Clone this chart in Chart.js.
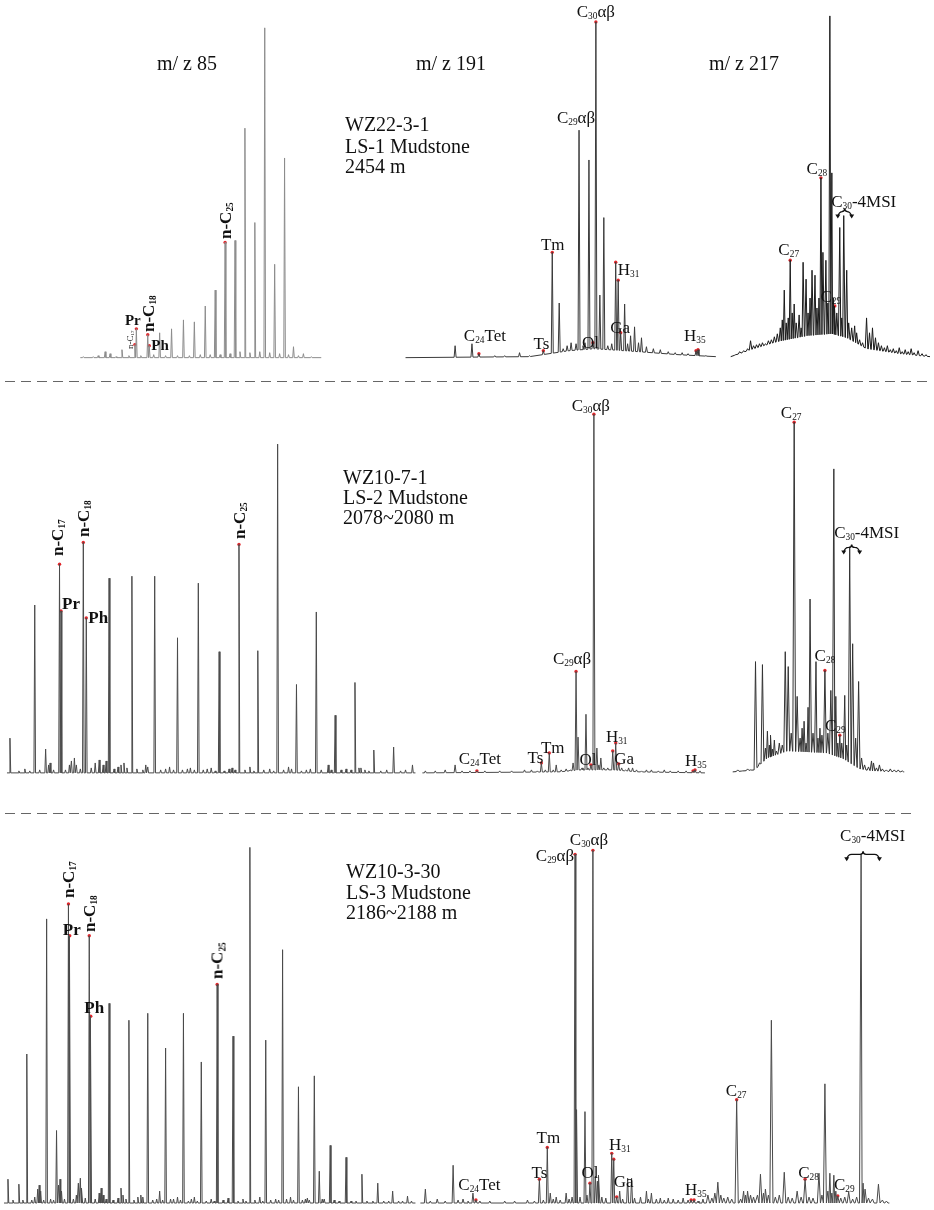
<!DOCTYPE html>
<html lang="en">
<head>
  <meta charset="UTF-8" />
  <meta name="viewport" content="width=device-width, initial-scale=1.0" />
  <title>Mass chromatograms m/z 85, 191, 217</title>
  <script src="https://cdn.jsdelivr.net/npm/chart.js"></script>
  <style>
    html, body { margin: 0; padding: 0; background: #fff; }
    #page { position: relative; width: 934px; height: 1210px; overflow: hidden;
            font-family: "Liberation Serif", "DejaVu Serif", serif; color: #111; }
    #trace { position: absolute; left: 0; top: 0; }
    .txt { position: absolute; white-space: nowrap; line-height: 1; }
    .txt sub { font-size: 0.55em; vertical-align: -0.3em; line-height: 0; }
    .hdr, .info { font-size: 20px; transform: translate(0, -50%); }
    .lab { font-size: 17px; }
    .b { font-size: 17px; font-weight: bold; }
    .b15 { font-size: 15px; font-weight: bold; }
    .s { font-size: 9px; }
  </style>
</head>
<body>
<div id="page">
  <canvas id="trace" width="934" height="1210"></canvas>

  <div class="txt hdr" style="left:157px; top:63px;">m/ z 85</div>
  <div class="txt hdr" style="left:416px; top:63px;">m/ z 191</div>
  <div class="txt hdr" style="left:709px; top:63px;">m/ z 217</div>

  <div class="txt info" style="left:345px; top:124px;">WZ22-3-1</div>
  <div class="txt info" style="left:345px; top:146px;">LS-1 Mudstone</div>
  <div class="txt info" style="left:345px; top:166px;">2454 m</div>

  <div class="txt info" style="left:343px; top:477px;">WZ10-7-1</div>
  <div class="txt info" style="left:343px; top:497px;">LS-2 Mudstone</div>
  <div class="txt info" style="left:343px; top:517px;">2078~2080 m</div>

  <div class="txt info" style="left:346px; top:871px;">WZ10-3-30</div>
  <div class="txt info" style="left:346px; top:892px;">LS-3 Mudstone</div>
  <div class="txt info" style="left:346px; top:912px;">2186~2188 m</div>
</div>

<script>
  // ---- peak tables: retention position (arbitrary units) and abundance (arbitrary units) ----

  // LS-1, m/z 85
  const p1Rt = [80, 90, 95, 102, 107, 113, 119, 126, 132, 133.5, 138, 145, 146.5, 151, 157, 163, 169, 175, 181, 187,
                192, 198, 203, 208, 213, 218, 223, 228, 233, 238, 243, 248, 253, 258, 263, 268, 273, 278, 283, 287,
                292, 297, 302, 310];
  const p1Ab = [1, 1, 2, 6, 4, 1, 8, 2, 13, 29, 2, 23, 12, 3, 25, 2, 29, 2, 38, 2,
                36, 3, 52, 3, 68, 3, 116, 4, 118, 6, 231, 5, 136, 6, 332, 5, 94, 4, 201, 3,
                11, 2, 4, 1];

  // LS-1, m/z 191
  const p2Rt = [55, 72, 79, 95, 105, 120, 130, 144, 153, 160, 164, 168, 172, 177, 180, 184, 186, 190, 194, 197,
                201, 205, 209, 213, 217, 219.5, 222, 226, 229, 232, 236, 240, 243, 248, 255, 262, 270, 277, 284, 290,
                298, 300, 308];
  const p2Ab = [12, 14, 4, 2, 2, 5, 2, 7, 106, 55, 9, 12, 15, 14, 229, 12, 15, 199, 15, 338,
                63, 141, 12, 14, 96, 78, 25, 54, 14, 22, 31, 15, 20, 11, 9, 8, 6, 5, 5, 4,
                7, 8, 2];
  const p2BaseRt = [5, 130, 150, 170, 195, 240, 280, 318];
  const p2BaseAb = [0, 1, 4, 7, 9, 6, 3, 1];

  // LS-1, m/z 217
  const p3Rt = [38, 42, 46, 50, 53, 56, 59, 62, 65, 68, 71, 74, 77, 80, 83, 85, 87, 89, 91, 93,
                95, 97, 99, 102, 104, 106, 109, 111, 113, 115, 118, 120, 122, 124, 126, 129, 131, 133, 135, 136.5,
                138, 140, 143, 145, 147, 150, 152, 155, 158, 160, 163, 166, 170, 173, 176, 179, 182, 185, 188, 191,
                194, 197, 200, 203, 206, 209, 212, 215, 218, 222, 226, 230];
  const p3Ab = [3, 6, 7, 9, 17, 12, 13, 14, 15, 14, 17, 18, 21, 24, 30, 38, 68, 35, 40, 98,
                45, 54, 35, 43, 30, 96, 79, 45, 60, 88, 83, 50, 60, 181, 106, 98, 55, 344, 186, 60,
                52, 45, 131, 40, 143, 88, 35, 30, 32, 25, 18, 15, 40, 25, 30, 20, 15, 12, 10, 12,
                8, 9, 7, 10, 6, 8, 6, 9, 5, 7, 4, 3];
  const p3BaseRt = [33, 53, 80, 110, 135, 150, 170, 203, 234];
  const p3BaseAb = [1, 8, 16, 22, 24, 20, 9, 4, 1];

  // LS-2, m/z 85
  const p4Rt = [6, 15, 21, 26, 31, 36, 42, 45, 46.5, 50, 56, 57.5, 62, 66, 68, 71, 73, 77, 80, 83,
                88, 92, 96, 100, 103, 106, 111, 115, 118, 121, 124, 129, 134, 140, 143, 145, 152, 158, 163, 167,
                171, 175, 180, 185, 188, 192, 196, 201, 205, 209, 213, 217, 222, 227, 230, 233, 237, 243, 248, 252,
                256, 262, 268, 272, 276, 282, 287, 290, 295, 300, 305, 309, 315, 320, 327, 330, 334, 340, 345, 350,
                354, 358, 360, 364, 368, 373, 380, 386, 393, 400, 405, 412];
  const p4Ab = [35, 2, 4, 2, 169, 3, 24, 8, 10, 3, 210, 163, 3, 8, 12, 15, 8, 4, 232, 156,
                5, 10, 13, 8, 12, 196, 4, 6, 8, 10, 5, 198, 4, 3, 8, 6, 198, 3, 4, 6,
                3, 136, 3, 4, 5, 3, 191, 3, 4, 5, 2, 122, 2, 4, 5, 3, 230, 3, 6, 2,
                123, 3, 4, 2, 331, 3, 6, 4, 89, 2, 3, 4, 162, 3, 8, 3, 58, 3, 4, 3,
                91, 5, 5, 3, 2, 23, 2, 3, 26, 2, 3, 8];

  // LS-2, m/z 191
  const p5Rt = [25, 35, 45, 55, 62, 70, 77, 85, 100, 112, 125, 132, 138, 142, 146, 150, 154, 157, 162, 167,
                171, 174, 177, 179, 183, 187, 189, 192, 195, 198, 200, 202, 205, 209, 214, 217, 220, 223, 227, 230,
                234, 238, 243, 248, 253, 260, 266, 272, 280, 288, 295, 297, 302];
  const p5Ab = [2, 2, 3, 8, 2, 2, 2, 2, 2, 2, 3, 3, 2, 10, 3, 20, 3, 8, 3, 4,
                3, 10, 102, 36, 5, 59, 5, 8, 361, 25, 8, 15, 5, 5, 22, 30, 9, 5, 3, 5,
                5, 3, 2, 3, 3, 2, 3, 2, 2, 2, 2, 3, 2];
  const p5BaseRt = [22, 160, 180, 215, 240, 307];
  const p5BaseAb = [0, 1, 3, 3, 1, 0];

  // LS-2, m/z 217
  const p6Rt = [40, 45, 50, 53, 58, 62, 65, 68, 70, 72, 73.5, 75, 77, 79, 82, 85, 88, 91, 94, 97,
                100, 103, 105, 107, 109, 111, 113, 116, 119, 121, 123, 125, 128, 131, 134, 137, 139, 141, 143, 145,
                148, 150, 153, 156, 159, 162, 165, 168, 172, 175, 177, 180, 183, 186, 190, 194, 198, 202, 206];
  const p6Ab = [3, 2, 4, 3, 112, 10, 109, 25, 42, 28, 38, 24, 33, 22, 30, 28, 122, 107, 40, 353,
                77, 35, 45, 52, 30, 66, 175, 40, 112, 35, 45, 38, 103, 40, 83, 306, 77, 30, 38, 30,
                78, 28, 227, 130, 35, 92, 15, 8, 6, 12, 10, 5, 8, 4, 3, 4, 3, 3, 2];
  const p6BaseRt = [35, 57, 70, 90, 130, 147, 163, 175, 208];
  const p6BaseAb = [1, 3, 15, 22, 20, 14, 4, 2, 1];

  // LS-3, m/z 85
  const p7Rt = [4, 9, 15, 19, 23, 28, 31, 34, 35.5, 37, 40, 43, 47, 50, 53, 55, 56.5, 58, 61, 65,
                66.3, 70, 73, 75, 77, 78.5, 82, 86, 87.5, 92, 96, 98, 100, 103, 106, 110, 115, 118, 120, 123,
                126, 131, 135, 138, 140, 145, 150, 154, 157, 160, 163, 168, 171, 175, 178, 181, 186, 189, 192, 195,
                199, 204, 209, 212, 215, 221, 226, 231, 236, 241, 244, 248, 253, 258, 261, 264, 269, 274, 277, 281,
                285, 289, 292, 297, 301, 304, 306, 308, 313, 318, 321, 323, 329, 333, 338, 345, 350, 355, 361, 366,
                372, 377, 383, 388, 392, 398, 402, 407, 411];
  const p7Ab = [24, 3, 19, 3, 150, 3, 6, 14, 18, 12, 3, 286, 4, 3, 73, 18, 24, 12, 4, 301,
                269, 4, 8, 20, 25, 15, 5, 269, 188, 4, 10, 15, 8, 4, 201, 3, 5, 15, 8, 4,
                184, 3, 6, 8, 6, 191, 3, 4, 12, 3, 156, 4, 4, 6, 3, 191, 2, 4, 6, 2,
                142, 2, 4, 2, 220, 3, 5, 168, 2, 4, 2, 358, 3, 6, 2, 164, 3, 4, 3, 255,
                4, 6, 3, 117, 3, 4, 5, 3, 128, 32, 4, 4, 58, 3, 2, 46, 2, 2, 29, 2,
                2, 20, 2, 2, 12, 2, 2, 7, 2];

  // LS-3, m/z 191
  const p8Rt = [25, 30, 37, 45, 53, 58, 63, 68, 73, 76, 80, 90, 105, 115, 128, 135, 140, 144, 148, 151,
                154, 157, 161, 167, 170, 173, 176, 177.5, 181, 186, 188, 191, 194, 196.5, 198.5, 200, 203, 207, 213, 215,
                218, 221, 224, 229, 233, 236, 242, 248, 250, 253, 258, 262, 266, 270, 275, 280, 285, 290, 293, 296,
                300, 305];
  const p8Ab = [14, 2, 4, 2, 38, 3, 4, 2, 10, 3, 2, 2, 2, 2, 3, 2, 24, 3, 56, 10,
                4, 6, 3, 10, 4, 6, 351, 94, 6, 92, 8, 20, 355, 27, 22, 28, 6, 5, 50, 44,
                6, 12, 4, 25, 25, 5, 6, 12, 4, 10, 4, 5, 3, 5, 4, 3, 5, 3, 3, 3,
                2, 4];

  // LS-3, m/z 217
  const p9Rt = [10, 14, 17, 20, 23, 26, 30, 34, 39, 43, 46, 48, 50, 53, 56, 60, 63, 66, 68, 71,
                74, 78, 82, 87, 91, 95, 100, 104, 108, 112, 116, 122, 125, 128, 131, 133, 135, 137, 139, 141,
                144, 148, 152, 156, 160, 164.5, 166.5, 168.5, 172, 176, 182, 186, 190];
  const p9Ab = [8, 5, 10, 21, 8, 5, 6, 4, 104, 4, 12, 8, 12, 8, 6, 8, 29, 10, 14, 8,
                184, 6, 8, 31, 6, 5, 12, 6, 24, 6, 5, 30, 8, 120, 12, 30, 10, 28, 12, 7,
                5, 6, 11, 4, 6, 351, 20, 14, 5, 4, 19, 3, 2];

  // ---- peak labels (at = retention position of the labelled peak) ----
  const p1Labels = [
    { at: 132, t: 'n-C_17', rot: true, cls: 's', dx: -5, dy: 4 },
    { at: 133.5, t: 'Pr', cls: 'b15', dx: -3.5, dy: -9 },
    { at: 145, t: 'n-C_18', rot: true, cls: 'b', dx: 0, dy: -3 },
    { at: 146.5, t: 'Ph', cls: 'b15', align: 'left', dx: 2, dy: -1 },
    { at: 223, t: 'n-C_25', rot: true, cls: 'b', dx: 0, dy: -3 }
  ];
  const p2Labels = [
    { at: 79, t: 'C_24_Tet', dx: 6, dy: -19 },
    { at: 144, t: 'Ts', align: 'right', dx: 6, dy: -8 },
    { at: 153, t: 'Tm', dx: 0.5, dy: -8 },
    { at: 180, t: 'C_29_αβ', dx: -3, dy: -13, dot: false },
    { at: 194, t: 'Ol', dx: -2.5, dy: -1 },
    { at: 197, t: 'C_30_αβ', dx: 0, dy: -11 },
    { at: 217, t: 'H_31', align: 'left', dx: 2, dy: 7 },
    { at: 219.5, t: '' },
    { at: 222, t: 'Ga', dx: -0.5, dy: -6 },
    { at: 298, t: 'H_35', align: 'left', dx: -12, dy: -16 },
    { at: 300, t: '' }
  ];
  const p3Labels = [
    { at: 93, t: 'C_27', dx: -1.5, dy: -11 },
    { at: 124, t: 'C_28', dx: -4, dy: -10 },
    { at: 138, t: 'C_29', dx: -4, dy: -10 }
  ];
  const p4Labels = [
    { at: 56, t: 'n-C_17', rot: true, cls: 'b', dx: -3, dy: -8 },
    { at: 57.5, t: 'Pr', cls: 'b', align: 'left', dx: 1, dy: -8 },
    { at: 80, t: 'n-C_18', rot: true, cls: 'b', dx: 0, dy: -5 },
    { at: 83, t: 'Ph', cls: 'b', align: 'left', dx: 2, dy: -1 },
    { at: 237, t: 'n-C_25', rot: true, cls: 'b', dx: 0, dy: -5 }
  ];
  const p5Labels = [
    { at: 77, t: 'C_24_Tet', dx: 3, dy: -13 },
    { at: 142, t: 'Ts', align: 'right', dx: 2, dy: -6 },
    { at: 150, t: 'Tm', dx: 3.5, dy: -6 },
    { at: 177, t: 'C_29_αβ', dx: -4, dy: -14 },
    { at: 192, t: 'Ol', dx: -3, dy: -6 },
    { at: 195, t: 'C_30_αβ', dx: -3, dy: -9 },
    { at: 214, t: '' },
    { at: 217, t: 'H_31', dx: 1, dy: -7 },
    { at: 220, t: 'Ga', dx: 5.5, dy: -6 },
    { at: 295, t: 'H_35', align: 'left', dx: -8, dy: -11 },
    { at: 297, t: '' }
  ];
  const p6Labels = [
    { at: 97, t: 'C_27', dx: -3, dy: -10 },
    { at: 128, t: 'C_28', dx: 0, dy: -16 },
    { at: 143, t: 'C_29', dx: -4.5, dy: -10 }
  ];
  const p7Labels = [
    { at: 65, t: 'n-C_17', rot: true, cls: 'b', dx: 0, dy: -6 },
    { at: 66.3, t: 'Pr', cls: 'b', dx: 2, dy: -7 },
    { at: 86, t: 'n-C_18', rot: true, cls: 'b', dx: 0, dy: -4 },
    { at: 87.5, t: 'Ph', cls: 'b', dx: 3.5, dy: -9 },
    { at: 215, t: 'n-C_25', rot: true, cls: 'b', dx: 0, dy: -5 }
  ];
  const p8Labels = [
    { at: 76, t: 'C_24_Tet', dx: 3.5, dy: -16 },
    { at: 140, t: 'Ts', dx: 0, dy: -7 },
    { at: 148, t: 'Tm', dx: 1, dy: -10 },
    { at: 176, t: 'C_29_αβ', align: 'right', dx: -1, dy: 1 },
    { at: 191, t: 'Ol', dx: 0, dy: -11 },
    { at: 194, t: 'C_30_αβ', dx: -4, dy: -11 },
    { at: 213, t: 'H_31', dx: 8, dy: -9 },
    { at: 215, t: '' },
    { at: 218, t: 'Ga', dx: 7, dy: -16 },
    { at: 293, t: 'H_35', align: 'left', dx: -6, dy: -11 },
    { at: 296, t: '' }
  ];
  const p9Labels = [
    { at: 39, t: 'C_27', dx: -0.5, dy: -10 },
    { at: 108, t: 'C_28', dx: 3.5, dy: -7 },
    { at: 141, t: 'C_29', dx: 6.5, dy: -12 }
  ];

  // ---- layout ----
  const W = 934, H = 1210;
  const colLeft = { mz85: 0, mz191: 400, mz217: 700 };   // px offset of each column
  const rowBase = { r1: 356, r2: 774, r3: 1207 };       // px of each row's baseline

  const panels = [
    { col: 'mz85',  row: 'r1', rt: p1Rt, ab: p1Ab, from: 77,  to: 320, w: 0.8, color: '#8c8c8c', labels: p1Labels },
    { col: 'mz191', row: 'r1', rt: p2Rt, ab: p2Ab, from: 5,   to: 318, w: 1.0, color: '#3a3a3a', labels: p2Labels, base: [p2BaseRt, p2BaseAb] },
    { col: 'mz217', row: 'r1', rt: p3Rt, ab: p3Ab, from: 33,  to: 234, w: 1.3, color: '#1a1a1a', labels: p3Labels, base: [p3BaseRt, p3BaseAb] },
    { col: 'mz85',  row: 'r2', rt: p4Rt, ab: p4Ab, from: 3,   to: 415, w: 0.8, color: '#4a4a4a', labels: p4Labels },
    { col: 'mz191', row: 'r2', rt: p5Rt, ab: p5Ab, from: 22,  to: 307, w: 1.0, color: '#4a4a4a', labels: p5Labels, base: [p5BaseRt, p5BaseAb] },
    { col: 'mz217', row: 'r2', rt: p6Rt, ab: p6Ab, from: 35,  to: 208, w: 1.4, color: '#333333', labels: p6Labels, base: [p6BaseRt, p6BaseAb] },
    { col: 'mz85',  row: 'r3', rt: p7Rt, ab: p7Ab, from: 0,   to: 415, w: 0.8, color: '#4a4a4a', labels: p7Labels },
    { col: 'mz191', row: 'r3', rt: p8Rt, ab: p8Ab, from: 20,  to: 308, w: 1.0, color: '#4a4a4a', labels: p8Labels },
    { col: 'mz217', row: 'r3', rt: p9Rt, ab: p9Ab, from: 8,   to: 193, w: 1.6, color: '#4a4a4a', labels: p9Labels }
  ];

  const braces = [
    { col: 'mz217', row: 'r1', from: 141, to: 155, at: 143, lift: 4, dx: 19, dy: -11 },
    { col: 'mz217', row: 'r2', from: 147, to: 163, at: 227, lift: 0, dx: 15, dy: -15 },
    { col: 'mz217', row: 'r3', from: 150, to: 183, at: 351, lift: 0, dx: 9.5, dy: -19 }
  ];
  const dividers = [ { x1: 5, x2: 930, y: 381 }, { x1: 5, x2: 912, y: 813 } ];

  function baseAt(base, x) {
    if (!base) return 0;
    const xs = base[0], ys = base[1];
    if (x <= xs[0]) return ys[0];
    for (let i = 1; i < xs.length; i++) {
      if (x <= xs[i]) return ys[i - 1] + (x - xs[i - 1]) / (xs[i] - xs[i - 1]) * (ys[i] - ys[i - 1]);
    }
    return ys[ys.length - 1];
  }

  // each peak becomes a narrow spike standing on the baseline
  function trace(p) {
    const idx = p.rt.map((_, i) => i).sort((a, b) => p.rt[a] - p.rt[b]);
    const pts = [{ x: p.from, y: baseAt(p.base, p.from) }];
    idx.forEach((i, k) => {
      const x = p.rt[i];
      const prev = k > 0 ? p.rt[idx[k - 1]] : -Infinity;
      const next = k < idx.length - 1 ? p.rt[idx[k + 1]] : Infinity;
      const lx = Math.max(x - p.w, (prev + x) / 2);
      const rx = Math.min(x + p.w, (x + next) / 2);
      pts.push({ x: lx, y: baseAt(p.base, lx) }, { x: x, y: p.ab[i] }, { x: rx, y: baseAt(p.base, rx) });
    });
    pts.push({ x: p.to, y: baseAt(p.base, p.to) });
    return pts;
  }

  const scales = {};
  for (const c in colLeft) scales[c] = { type: 'linear', axis: 'x', display: false, min: -colLeft[c], max: W - colLeft[c] };
  for (const r in rowBase) scales[r] = { type: 'linear', axis: 'y', display: false, min: rowBase[r] - H, max: rowBase[r] };

  const datasets = [];
  panels.forEach(p => {
    datasets.push({
      type: 'line', data: trace(p), xAxisID: p.col, yAxisID: p.row,
      borderColor: p.color, borderWidth: 1, borderJoinStyle: 'bevel',
      pointRadius: 0, tension: 0, fill: false
    });
  });
  panels.forEach(p => {
    datasets.push({
      type: 'scatter', xAxisID: p.col, yAxisID: p.row,
      data: p.labels.filter(l => l.dot !== false).map(l => ({ x: l.at, y: p.ab[p.rt.indexOf(l.at)] })),
      pointRadius: 1.7, pointBackgroundColor: '#e3262b', pointBorderWidth: 0, showLine: false
    });
  });

  function drawBrace(ctx, x1, x2, y) {
    const xm = (x1 + x2) / 2;
    ctx.beginPath();
    ctx.moveTo(x1, y + 5);
    ctx.quadraticCurveTo(x1 + 1, y, x1 + 5, y);
    ctx.lineTo(xm - 3, y);
    ctx.quadraticCurveTo(xm, y, xm, y - 3);
    ctx.quadraticCurveTo(xm, y, xm + 3, y);
    ctx.lineTo(x2 - 5, y);
    ctx.quadraticCurveTo(x2 - 1, y, x2, y + 5);
    ctx.stroke();
    [x1, x2].forEach(x => {
      ctx.beginPath();
      ctx.moveTo(x - 2.5, y + 3);
      ctx.lineTo(x + 2.5, y + 3);
      ctx.lineTo(x, y + 7);
      ctx.closePath();
      ctx.fill();
    });
  }

  const decor = {
    id: 'decor',
    afterDatasetsDraw(c) {
      const ctx = c.ctx;
      ctx.save();
      ctx.strokeStyle = '#666';
      ctx.lineWidth = 1;
      ctx.setLineDash([10, 6]);
      dividers.forEach(d => {
        ctx.beginPath();
        ctx.moveTo(d.x1, d.y + 0.5);
        ctx.lineTo(d.x2, d.y + 0.5);
        ctx.stroke();
      });
      ctx.setLineDash([]);
      ctx.strokeStyle = '#111';
      ctx.fillStyle = '#111';
      ctx.lineWidth = 1.4;
      braces.forEach(b => {
        const xs = c.scales[b.col], ys = c.scales[b.row];
        drawBrace(ctx, xs.getPixelForValue(b.from), xs.getPixelForValue(b.to), ys.getPixelForValue(b.at) - b.lift);
      });
      ctx.restore();
    }
  };

  const chart = new Chart(document.getElementById('trace'), {
    type: 'line',
    data: { datasets: datasets },
    options: {
      responsive: false,
      animation: false,
      events: [],
      layout: { padding: 0 },
      plugins: { legend: { display: false }, tooltip: { enabled: false } },
      scales: scales
    },
    plugins: [decor]
  });

  // ---- text labels as real text, placed through the chart scales ----
  const page = document.getElementById('page');
  function rich(t) {
    return t.split('_').map((s, i) => i % 2 ? '<sub>' + s + '</sub>' : s).join('');
  }
  function addText(html, cls, x, y, align, rot) {
    const el = document.createElement('div');
    el.className = 'txt ' + cls;
    el.innerHTML = html;
    el.style.left = x + 'px';
    el.style.top = y + 'px';
    if (rot) {
      el.style.transformOrigin = '0 0';
      el.style.transform = 'rotate(-90deg) translate(0, -50%)';
    } else {
      const tx = { left: '0', center: '-50%', right: '-100%' }[align || 'center'];
      el.style.transform = 'translate(' + tx + ', -50%)';
    }
    page.appendChild(el);
  }

  panels.forEach(p => {
    const xs = chart.scales[p.col], ys = chart.scales[p.row];
    p.labels.forEach(l => {
      if (!l.t) return;
      const px = xs.getPixelForValue(l.at);
      const py = ys.getPixelForValue(p.ab[p.rt.indexOf(l.at)]);
      addText(rich(l.t), l.cls || 'lab', px + l.dx, py + l.dy, l.align, l.rot);
    });
  });
  braces.forEach(b => {
    const xs = chart.scales[b.col], ys = chart.scales[b.row];
    const cx = (xs.getPixelForValue(b.from) + xs.getPixelForValue(b.to)) / 2;
    const cy = ys.getPixelForValue(b.at) - b.lift;
    addText(rich('C_30_-4MSI'), 'lab', cx + b.dx, cy + b.dy, 'center', false);
  });
</script>
</body>
</html>
